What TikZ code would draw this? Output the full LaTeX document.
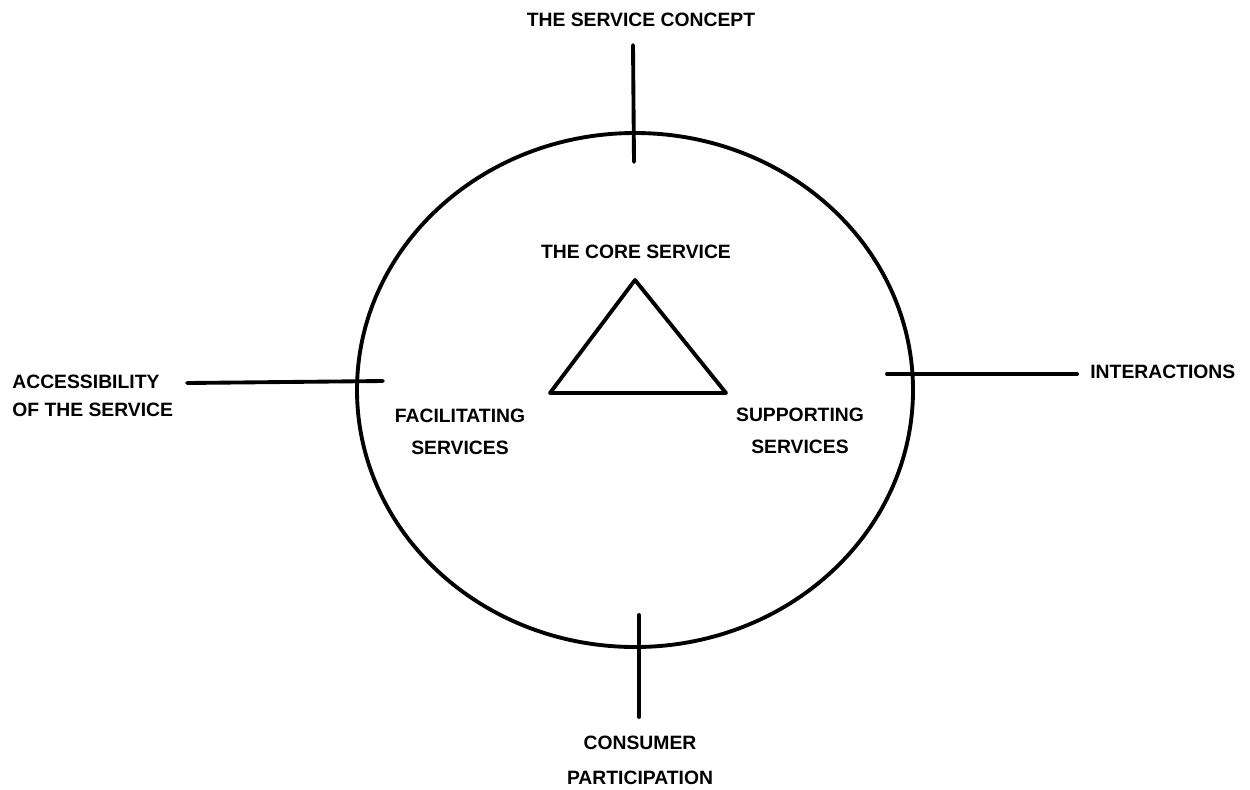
\documentclass[tikz,border=0pt]{standalone}
\usepackage{fontspec}
\setmainfont{Liberation Sans}
\tikzset{
  lbl/.style={font=\bfseries\fontsize{11}{13.5}\selectfont,inner sep=0pt,align=center},
  rule/.style={line width=2.2pt,line cap=round}
}
\begin{document}
\begin{tikzpicture}[x=0.02cm,y=-0.02cm]
\useasboundingbox (0,0) rectangle (1250,789);
% the service package
\draw[rule] (635,390) ellipse [x radius=278,y radius=257];
\coordinate (apex) at (635,280);
\coordinate (fl) at (550,393);
\coordinate (sr) at (726,393);
\draw[rule,line join=round] (apex)--(fl)--(sr)--cycle;
\node[lbl] (core) at (636,252) {THE CORE SERVICE};
\node[lbl] (facil) at (460,432) {FACILITATING\\[5pt]SERVICES};
\node[lbl] (supp) at (800,431) {SUPPORTING\\[5pt]SERVICES};
% the four axes
\node[lbl] (concept) at (641,20) {THE SERVICE CONCEPT};
\node[lbl,anchor=west,align=left] (access) at (12,396) {ACCESSIBILITY\\[2.4pt]OF THE SERVICE};
\node[lbl,anchor=west] (inter) at (1090,372) {INTERACTIONS};
\node[lbl] (cons) at (640,760) {CONSUMER\\[6.4pt]PARTICIPATION};
\coordinate (t1) at (633,45);  \coordinate (t2) at (634,162);
\coordinate (b1) at (639,615); \coordinate (b2) at (639,717);
\coordinate (l1) at (187,383); \coordinate (l2) at (383,381);
\coordinate (r1) at (887,374); \coordinate (r2) at (1077,374);
\draw[rule] (t1)--(t2);
\draw[rule] (b1)--(b2);
\draw[rule] (l1)--(l2);
\draw[rule] (r1)--(r2);
\end{tikzpicture}
\end{document}
